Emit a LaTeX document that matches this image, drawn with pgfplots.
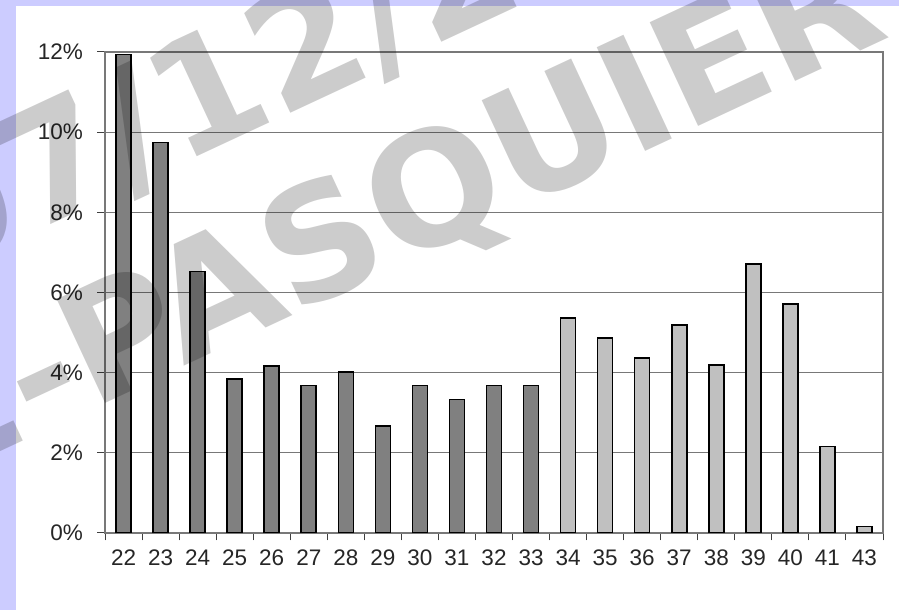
\documentclass[border=0pt]{standalone}
\usepackage{fontspec}
\setmainfont{Liberation Sans}
\newfontfamily\wmfont{DejaVu Sans}
\usepackage{pgfplots}
\pgfplotsset{compat=1.18}
\definecolor{lav}{RGB}{204,204,255}
\definecolor{darkbar}{RGB}{128,128,128}
\definecolor{lightbar}{RGB}{192,192,192}
\definecolor{gridc}{RGB}{120,120,120}
\begin{document}
\begin{tikzpicture}[x=1pt,y=1pt]
\path[use as bounding box] (0,0) rectangle (899,610);
\clip (0,0) rectangle (899,610);
\fill[lav] (0,0) rectangle (899,610);
\fill[white] (16,0) rectangle (899,604);
\begin{axis}[
  at={(105pt,77pt)}, anchor=south west,
  scale only axis, width=778pt, height=481pt,
  xmin=-0.5, xmax=20.5, ymin=0, ymax=12,
  ybar, bar width=15pt,
  xtick={-0.5,0.5,...,20.5}, xticklabels={},
  extra x ticks={0,1,...,20},
  extra x tick labels={22,23,24,25,26,27,28,29,30,31,32,33,34,35,36,37,38,39,40,41,43},
  extra x tick style={tick style={draw=none}, tick label style={yshift=-6pt}},
  ytick={0,2,...,12},
  yticklabel={\pgfmathprintnumber{\tick}\%},
  y tick label style={xshift=-11pt},
  ymajorgrids, grid style={gridc, line width=1.2pt},
  axis line style={gridc, line width=1.2pt},
  tick style={black!75, line width=1pt},
  tick align=outside, major tick length=7.5pt,
  tick pos=left,
  ticklabel style={font=\fontsize{22.5}{22.5}\selectfont, text=black!85},
  /pgf/number format/assume math mode=true,
]
\addplot[bar shift=0pt, fill=darkbar, draw=black, line width=1.6pt] coordinates {
 (0,11.94) (1,9.74) (2,6.52) (3,3.84) (4,4.17) (5,3.68) (6,4.02) (7,2.67)
 (8,3.68) (9,3.33) (10,3.68) (11,3.68)};
\addplot[bar shift=0pt, fill=lightbar, draw=black, line width=1.6pt] coordinates {
 (12,5.36) (13,4.86) (14,4.36) (15,5.19) (16,4.19) (17,6.71) (18,5.71) (19,2.16) (20,0.16)};
\end{axis}
\wmfont\bfseries\fontsize{157}{157}\selectfont
\node[anchor=base west, rotate=25, inner sep=0pt, text=black, text opacity=0.2] at (-70,329) {07/12/2007};
\node[anchor=base west, rotate=25, inner sep=0pt, text=black, text opacity=0.2] at (-64,128) {E-PASQUIER};
\end{tikzpicture}
\end{document}
